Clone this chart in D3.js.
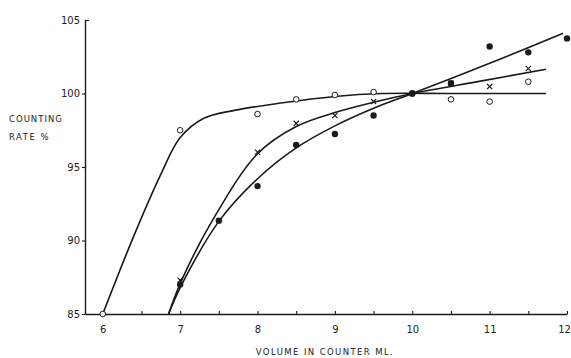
<!DOCTYPE html>
<html>
<head>
<meta charset="utf-8">
<script src="https://cdn.jsdelivr.net/npm/d3@7"></script>
<style>
  body { margin: 0; background: #fff; }
  svg { display: block; }
  text { font-family: 'DejaVu Sans', sans-serif; fill: #222; }
</style>
</head>
<body>
<svg id="chart"></svg>
<script>
  const width = 571;
  const height = 358;

  // measured points (volume ml, counting rate %)
  const openPoints = [[6, 85], [7, 97.5], [8, 98.6], [8.5, 99.6], [9, 99.9], [9.5, 100.1], [10, 100], [10.5, 99.6], [11, 99.45], [11.5, 100.8]];
  const crossPoints = [[7, 87.3], [8, 96], [8.5, 97.97], [9, 98.5], [9.5, 99.45], [10, 100], [10.5, 100.7], [11, 100.47], [11.5, 101.7]];
  const filledPoints = [[7, 87], [7.5, 91.35], [8, 93.7], [8.5, 96.5], [9, 97.24], [9.5, 98.5], [10, 100], [10.5, 100.7], [11, 103.2], [11.5, 102.8], [12, 103.75]];

  // hand drawn fitted curves
  const openCurve = [[6, 85], [6.4, 90.3], [6.75, 94.5], [7, 97], [7.3, 98.3], [7.7, 98.85], [8.3, 99.35], [9, 99.8], [9.6, 100], [10.5, 100], [11.73, 100]];
  const crossCurve = [[6.85, 85], [7.02, 87.3], [7.41, 91.3], [8, 95.9], [8.5, 97.75], [9, 98.7], [9.5, 99.4], [10, 100], [10.9, 100.86], [11.73, 101.65]];
  const filledCurve = [[6.85, 85], [7.02, 87], [7.5, 91.3], [8, 94.2], [8.5, 96.3], [9, 97.8], [9.5, 99], [10, 100], [11, 102.05], [11.95, 104.1]];

  const xTicks = [6, 6.5, 7, 7.5, 8, 8.5, 9, 9.5, 10, 10.5, 11, 11.5, 12];
  const yTicks = [85, 90, 95, 100, 105];

  const svg = d3.select("#chart")
    .attr("width", width)
    .attr("height", height);

  const x = d3.scaleLinear().domain([5.77, 12]).range([85, 567]);
  const y = d3.scaleLinear().domain([85, 105]).range([314, 20]);

  const ink = "#1a1a1a";

  // x axis, ticks pointing up
  const xAxis = svg.append("g")
    .attr("transform", `translate(0,${y(85)})`)
    .call(d3.axisBottom(x)
      .tickValues(xTicks)
      .tickSizeInner(-3)
      .tickSizeOuter(0)
      .tickPadding(12)
      .tickFormat(d => Number.isInteger(d) ? d : ""));

  // last label sits at the page edge
  xAxis.selectAll(".tick").filter(d => d === 12).select("text").attr("dx", -3);

  // y axis
  const yAxis = svg.append("g")
    .attr("transform", `translate(${x(5.77)},0)`)
    .call(d3.axisLeft(y)
      .tickValues(yTicks)
      .tickSizeInner(3)
      .tickSizeOuter(0)
      .tickPadding(2));

  // top tick hooks to the right
  yAxis.selectAll(".tick").filter(d => d === 105).select("line").attr("x2", 4);

  [xAxis, yAxis].forEach(a => {
    a.select(".domain").attr("stroke", ink).attr("stroke-width", 1.4);
    a.selectAll(".tick line").attr("stroke", ink).attr("stroke-width", 1.1);
    a.selectAll(".tick text")
      .attr("font-size", "10px")
      .attr("font-family", "'DejaVu Sans', sans-serif")
      .attr("fill", ink);
  });

  // axis titles
  svg.append("text")
    .attr("x", 9).attr("y", 122)
    .attr("font-size", "8.5px")
    .attr("letter-spacing", "1px")
    .text("COUNTING");
  svg.append("text")
    .attr("x", 9).attr("y", 140)
    .attr("font-size", "8.5px")
    .attr("letter-spacing", "1.5px")
    .text("RATE  %");

  svg.append("text")
    .attr("x", 325).attr("y", 355)
    .attr("text-anchor", "middle")
    .attr("font-size", "8.5px")
    .attr("letter-spacing", "1.4px")
    .text("VOLUME  IN  COUNTER   ML.");

  // curves
  const line = d3.line()
    .x(d => x(d[0]))
    .y(d => y(d[1]))
    .curve(d3.curveCatmullRom.alpha(0.5));

  [openCurve, crossCurve, filledCurve].forEach(c => {
    svg.append("path")
      .datum(c)
      .attr("d", line)
      .attr("fill", "none")
      .attr("stroke", ink)
      .attr("stroke-width", 1.6);
  });

  // points
  svg.append("g").selectAll("circle")
    .data(openPoints)
    .join("circle")
    .attr("cx", d => x(d[0]))
    .attr("cy", d => y(d[1]))
    .attr("r", 2.8)
    .attr("fill", "#fff")
    .attr("stroke", ink)
    .attr("stroke-width", 1);

  svg.append("g").selectAll("circle")
    .data(filledPoints)
    .join("circle")
    .attr("cx", d => x(d[0]))
    .attr("cy", d => y(d[1]))
    .attr("r", 3.2)
    .attr("fill", ink);

  const s = 2.6;
  svg.append("g").selectAll("path")
    .data(crossPoints)
    .join("path")
    .attr("d", d => {
      const cx = x(d[0]), cy = y(d[1]);
      return `M${cx - s},${cy - s}L${cx + s},${cy + s}M${cx - s},${cy + s}L${cx + s},${cy - s}`;
    })
    .attr("stroke", ink)
    .attr("stroke-width", 1.2);
</script>
</body>
</html>
